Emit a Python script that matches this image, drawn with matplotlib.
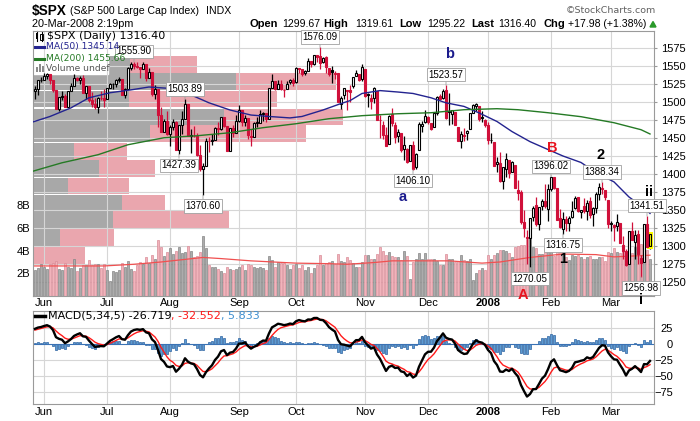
import matplotlib
matplotlib.use("Agg")
import matplotlib.pyplot as plt
import numpy as np
import pandas as pd
from matplotlib.lines import Line2D
from matplotlib.patches import Rectangle, Polygon

W, H = 700, 421

# ---- $SPX daily bars, 29-May-2007 .. 20-Mar-2008 (one line per month) ----
opens = [
    1515.55, 1517.60, 1530.19,
    1530.62, 1536.28, 1539.12, 1530.57, 1517.36, 1490.71, 1507.64, 1509.12, 1492.65, 1515.58, 1522.97, 1532.90, 1531.02, 1533.68, 1512.50, 1522.19, 1502.56, 1497.68, 1492.62, 1506.32, 1505.70,
    1504.66, 1519.12, 1524.86, 1524.96, 1530.43, 1531.85, 1509.93, 1518.74, 1547.68, 1552.50, 1549.52, 1549.20, 1546.13, 1553.19, 1534.06, 1541.57, 1511.03, 1518.09, 1482.44, 1458.93, 1473.90,
    1455.18, 1465.46, 1472.18, 1433.04, 1467.62, 1476.22, 1497.21, 1453.09, 1453.42, 1452.87, 1426.15, 1406.64, 1411.26, 1445.55, 1445.55, 1447.03, 1464.05, 1462.34, 1479.36, 1466.72, 1432.01, 1463.67, 1457.61,
    1473.96, 1488.76, 1472.03, 1478.55, 1453.50, 1451.69, 1471.10, 1471.47, 1483.95, 1484.24, 1476.63, 1519.75, 1528.69, 1518.75, 1525.75, 1516.34, 1518.62, 1527.32, 1531.24,
    1527.29, 1546.96, 1545.80, 1539.91, 1543.84, 1556.51, 1553.18, 1564.98, 1564.72, 1555.41, 1562.25, 1547.81, 1544.44, 1539.29, 1540.00, 1497.79, 1509.30, 1516.61, 1516.15, 1522.17, 1536.92, 1539.42, 1532.15,
    1545.79, 1511.07, 1505.61, 1505.33, 1515.46, 1475.27, 1467.59, 1453.66, 1441.35, 1483.40, 1468.04, 1453.09, 1456.70, 1434.51, 1434.71, 1417.62, 1440.74, 1409.59, 1432.95, 1467.41, 1471.83,
    1479.63, 1471.34, 1465.22, 1484.59, 1508.60, 1505.11, 1516.68, 1487.58, 1483.27, 1486.19, 1465.05, 1445.92, 1454.70, 1456.42, 1463.19, 1484.55, 1495.12, 1495.05, 1479.83, 1475.25,
    1467.97, 1447.55, 1444.01, 1414.07, 1415.71, 1390.25, 1406.78, 1419.91, 1402.91, 1411.88, 1377.41, 1374.79, 1333.90, 1312.94, 1310.41, 1340.13, 1357.32, 1330.70, 1355.94, 1362.22, 1351.98,
    1378.60, 1395.38, 1380.28, 1339.48, 1324.01, 1336.88, 1331.92, 1340.55, 1353.12, 1367.33, 1347.52, 1355.86, 1348.39, 1362.21, 1344.22, 1352.75, 1371.76, 1378.95, 1378.16, 1364.07,
    1330.45, 1329.58, 1327.69, 1332.20, 1301.53, 1293.16, 1274.40, 1321.13, 1305.26, 1316.05, 1283.21, 1277.41, 1330.97, 1299.67,
]
highs = [
    1521.80, 1530.23, 1535.56,
    1540.56, 1540.53, 1539.12, 1530.57, 1517.36, 1507.76, 1515.53, 1511.33, 1515.70, 1526.45, 1538.71, 1535.44, 1535.85, 1537.32, 1522.90, 1522.19, 1514.29, 1506.12, 1506.80, 1514.84, 1517.53,
    1519.45, 1526.01, 1526.57, 1532.40, 1534.26, 1531.85, 1519.34, 1548.74, 1555.10, 1555.90, 1555.32, 1549.20, 1555.20, 1553.19, 1547.23, 1541.57, 1524.31, 1518.09, 1492.89, 1476.80, 1488.30,
    1468.38, 1476.43, 1473.23, 1467.67, 1488.30, 1503.89, 1497.21, 1462.02, 1466.29, 1456.74, 1440.78, 1415.97, 1450.33, 1451.75, 1455.32, 1464.86, 1472.06, 1479.40, 1479.36, 1466.72, 1463.76, 1468.43, 1481.47,
    1496.40, 1488.76, 1481.49, 1478.55, 1462.25, 1472.48, 1479.50, 1489.58, 1485.99, 1484.24, 1519.89, 1538.74, 1529.14, 1530.89, 1530.18, 1518.27, 1529.39, 1532.46, 1533.74,
    1549.02, 1548.01, 1545.84, 1544.02, 1561.91, 1556.51, 1565.26, 1565.42, 1576.09, 1563.03, 1564.74, 1547.81, 1550.66, 1542.79, 1540.00, 1508.06, 1520.01, 1517.23, 1523.24, 1535.53, 1544.67, 1539.42, 1552.76,
    1545.79, 1513.15, 1510.84, 1520.77, 1515.46, 1482.50, 1474.09, 1464.94, 1481.37, 1492.14, 1472.67, 1462.18, 1456.70, 1452.64, 1436.40, 1440.86, 1446.09, 1429.49, 1471.62, 1473.81, 1488.94,
    1481.16, 1471.34, 1486.09, 1508.02, 1510.63, 1518.27, 1523.57, 1511.96, 1489.40, 1486.67, 1465.05, 1460.16, 1464.42, 1461.53, 1485.40, 1497.63, 1498.85, 1495.05, 1488.01, 1475.83,
    1471.77, 1456.80, 1444.01, 1423.87, 1430.28, 1409.19, 1429.09, 1419.91, 1417.89, 1411.88, 1391.99, 1377.72, 1350.28, 1322.09, 1339.02, 1355.15, 1368.56, 1353.97, 1364.93, 1385.86, 1385.62,
    1396.02, 1395.38, 1380.28, 1351.96, 1347.16, 1341.22, 1341.40, 1362.10, 1369.23, 1368.16, 1350.00, 1367.28, 1363.71, 1367.94, 1354.30, 1374.36, 1387.34, 1388.34, 1378.16, 1364.07,
    1335.13, 1331.03, 1344.19, 1332.20, 1313.24, 1295.01, 1320.65, 1333.26, 1321.68, 1321.47, 1287.50, 1330.74, 1341.51, 1319.61,
]
lows = [
    1504.41, 1510.06, 1528.26,
    1530.62, 1532.31, 1525.62, 1514.13, 1490.37, 1487.41, 1503.35, 1492.97, 1492.65, 1515.58, 1522.97, 1529.31, 1525.67, 1512.36, 1504.75, 1500.74, 1492.68, 1490.54, 1484.18, 1503.41, 1493.61,
    1504.66, 1519.12, 1517.72, 1520.47, 1527.45, 1510.01, 1506.10, 1518.74, 1544.85, 1546.69, 1547.74, 1533.67, 1546.13, 1529.20, 1534.06, 1508.62, 1503.73, 1465.30, 1458.57, 1458.93, 1454.25,
    1439.59, 1460.58, 1432.80, 1427.39, 1455.80, 1476.22, 1453.09, 1429.74, 1451.54, 1425.48, 1404.36, 1370.60, 1411.26, 1430.54, 1439.76, 1447.03, 1453.88, 1460.54, 1465.98, 1432.01, 1432.01, 1451.25, 1457.61,
    1472.15, 1466.34, 1467.41, 1449.07, 1439.29, 1451.69, 1465.75, 1471.47, 1473.18, 1471.82, 1476.63, 1519.75, 1516.42, 1518.75, 1516.15, 1507.13, 1518.62, 1525.81, 1521.99,
    1527.25, 1540.37, 1536.34, 1537.63, 1543.84, 1549.00, 1551.82, 1555.46, 1546.72, 1554.09, 1540.81, 1536.29, 1526.01, 1531.76, 1500.26, 1490.40, 1503.61, 1489.56, 1500.46, 1520.18, 1536.92, 1529.55, 1529.40,
    1506.66, 1492.53, 1489.95, 1499.07, 1475.04, 1450.31, 1448.51, 1438.53, 1441.35, 1466.47, 1443.49, 1443.99, 1430.42, 1419.28, 1415.64, 1417.62, 1406.10, 1407.43, 1432.95, 1458.36, 1470.89,
    1470.08, 1460.66, 1465.22, 1482.19, 1502.66, 1504.96, 1475.99, 1468.23, 1469.21, 1467.78, 1445.43, 1435.65, 1445.31, 1447.22, 1463.19, 1484.55, 1488.20, 1474.36, 1471.70, 1465.13,
    1442.07, 1443.73, 1411.19, 1403.45, 1388.30, 1378.70, 1395.31, 1394.83, 1402.91, 1380.60, 1364.27, 1330.67, 1312.51, 1274.29, 1270.05, 1334.31, 1327.50, 1322.26, 1350.19, 1352.95, 1334.08,
    1375.93, 1379.69, 1336.64, 1324.34, 1316.75, 1321.06, 1320.32, 1339.36, 1350.78, 1347.31, 1338.13, 1345.05, 1336.55, 1339.34, 1327.04, 1346.03, 1363.29, 1372.00, 1363.16, 1325.42,
    1320.04, 1307.39, 1320.22, 1303.42, 1282.43, 1272.66, 1274.40, 1307.86, 1282.11, 1274.86, 1256.98, 1277.41, 1298.42, 1295.22,
]
closes = [
    1518.11, 1530.23, 1530.62,
    1536.34, 1539.18, 1530.95, 1517.38, 1490.72, 1507.67, 1509.12, 1493.00, 1515.67, 1522.97, 1532.91, 1531.05, 1533.70, 1512.84, 1522.19, 1502.56, 1497.74, 1492.89, 1506.34, 1505.71, 1503.35,
    1519.43, 1524.87, 1525.40, 1530.44, 1531.85, 1510.12, 1518.76, 1547.70, 1552.50, 1549.52, 1549.37, 1546.17, 1553.08, 1534.10, 1541.57, 1511.04, 1518.09, 1482.66, 1458.95, 1473.91, 1455.27,
    1465.81, 1472.20, 1433.06, 1467.67, 1476.71, 1497.49, 1453.09, 1453.64, 1452.92, 1426.54, 1406.70, 1411.27, 1445.94, 1445.55, 1447.12, 1464.07, 1462.50, 1479.37, 1466.79, 1432.36, 1463.76, 1457.64, 1473.99,
    1489.42, 1472.29, 1478.55, 1453.55, 1451.70, 1471.49, 1471.56, 1483.95, 1484.25, 1476.65, 1519.78, 1529.03, 1518.75, 1525.75, 1517.73, 1517.21, 1525.42, 1531.38, 1526.75,
    1547.04, 1546.63, 1539.59, 1542.84, 1557.59, 1552.58, 1565.15, 1562.47, 1554.41, 1561.80, 1548.71, 1538.53, 1541.24, 1540.08, 1500.63, 1506.33, 1519.59, 1515.88, 1514.40, 1535.28, 1540.98, 1531.02, 1549.38,
    1508.44, 1509.65, 1502.17, 1520.27, 1475.62, 1474.77, 1453.70, 1439.18, 1481.05, 1470.58, 1451.15, 1458.74, 1433.27, 1439.70, 1416.77, 1440.70, 1407.22, 1428.23, 1469.02, 1469.72, 1481.14,
    1472.42, 1462.79, 1485.01, 1507.34, 1504.66, 1515.96, 1477.65, 1486.59, 1488.41, 1467.95, 1445.90, 1454.98, 1453.00, 1460.12, 1484.46, 1496.45, 1497.66, 1476.27, 1478.49, 1468.36,
    1447.16, 1447.16, 1411.63, 1416.18, 1390.19, 1409.13, 1420.33, 1401.02, 1416.25, 1380.95, 1373.20, 1333.25, 1325.19, 1310.50, 1338.60, 1352.07, 1330.61, 1353.96, 1362.30, 1355.81, 1378.55,
    1395.42, 1380.82, 1336.64, 1326.45, 1336.91, 1331.29, 1339.13, 1348.86, 1367.21, 1348.86, 1349.99, 1348.78, 1360.03, 1342.53, 1353.11, 1371.80, 1381.29, 1380.02, 1367.68, 1330.63,
    1331.34, 1326.75, 1333.70, 1304.34, 1293.37, 1273.37, 1320.65, 1308.77, 1315.48, 1288.14, 1276.60, 1330.74, 1298.42, 1316.40,
]
# volume in billions of shares
volumes = [
    2.3, 2.5, 2.8,
    2.6, 2.4, 2.8, 2.9, 3.1, 2.4, 2.3, 2.9, 2.6, 2.5, 3.3, 2.2, 2.5, 2.7, 2.7, 3.2, 2.7, 2.8, 2.8, 2.5, 2.8,
    2.3, 1.3, 2.2, 2.1, 2.3, 2.9, 2.6, 3.1, 2.4, 2.2, 2.7, 3.0, 2.8, 3.4, 2.9, 3.6, 3.3, 4.9, 4.3, 3.5, 3.9,
    4.2, 3.7, 4.0, 4.3, 3.8, 3.9, 4.4, 4.0, 3.4, 3.5, 3.9, 5.3, 4.2, 2.7, 2.6, 2.6, 2.4, 2.2, 2.0, 2.6, 2.4, 2.3, 2.4,
    2.6, 2.7, 2.3, 2.8, 2.7, 2.6, 2.5, 2.6, 2.5, 2.3, 3.5, 3.2, 2.6, 3.0, 2.9, 2.9, 2.7, 2.4, 2.7,
    2.8, 2.5, 2.7, 2.3, 2.6, 2.0, 2.5, 2.7, 3.6, 2.7, 2.9, 3.0, 3.1, 2.8, 3.7, 3.1, 3.0, 3.4, 3.2, 2.9, 2.6, 2.6, 3.0,
    3.6, 3.6, 3.3, 3.3, 3.7, 4.3, 4.0, 3.6, 3.9, 3.5, 3.4, 3.4, 3.2, 4.0, 3.5, 1.5, 3.0, 3.3, 3.8, 3.3, 3.8,
    3.3, 3.3, 3.3, 3.1, 2.7, 2.7, 3.7, 3.3, 3.3, 3.0, 3.1, 3.6, 3.2, 3.1, 3.3, 1.4, 2.0, 2.3, 2.5, 2.3,
    3.6, 3.3, 3.6, 3.8, 4.1, 4.1, 4.0, 3.8, 3.4, 4.3, 4.4, 4.5, 4.5, 5.0, 5.3, 4.3, 4.2, 3.7, 3.7, 4.2, 4.3,
    4.2, 3.5, 4.3, 4.0, 4.0, 3.4, 3.2, 3.6, 3.5, 3.6, 3.4, 3.3, 3.4, 3.5, 3.3, 3.3, 3.4, 3.4, 3.1, 3.9,
    3.8, 4.2, 3.9, 3.8, 4.3, 3.8, 4.5, 3.8, 4.3, 4.0, 4.6, 4.4, 4.1, 3.3,
]
holidays = ["2007-07-04", "2007-09-03", "2007-11-22", "2007-12-25",
            "2008-01-01", "2008-01-21", "2008-02-18"]

# overlay lines (day number, value)
ma50_day = [-1, 5, 12, 18, 25, 32, 38, 45, 52, 58, 65, 72, 78, 85, 89, 96, 102, 105, 109,
            115, 121, 126, 132, 137, 143, 148, 154, 159, 165, 171, 176, 182, 187, 193, 198, 203, 205]
ma50_val = [1472, 1480, 1492, 1506, 1513, 1517, 1521, 1519, 1510, 1499, 1489, 1482, 1480, 1478,
            1480, 1489, 1498, 1502, 1512, 1516, 1514, 1512, 1506, 1499, 1494, 1485, 1473, 1459,
            1445, 1434, 1425, 1416, 1402, 1389, 1368, 1353, 1345.14]
ma200_day = [-1, 9, 21, 31, 43, 54, 65, 76, 87, 98, 109, 121, 132, 143, 154, 161, 171, 182, 193, 202, 205]
ma200_val = [1403.5, 1415.6, 1426.8, 1440.7, 1450.4, 1453.2, 1457.4, 1464.4, 1469.9, 1476.9,
             1481.1, 1483.8, 1485.2, 1489.4, 1490.8, 1489.4, 1485.2, 1479.7, 1471.3, 1461.6, 1455.66]
volma_day = [-1, 23, 33, 42, 49, 56, 62, 72, 87, 98, 104, 113, 119, 138, 149, 155, 165, 176, 187, 193, 205]
volma_val = [2.65, 2.65, 2.8, 3.0, 3.2, 3.4, 3.3, 3.1, 2.9, 2.85, 2.8, 2.95, 3.1, 3.1, 2.9, 3.0,
             3.4, 3.7, 3.65, 3.45, 3.6]

# volume-by-price zones (zone top price, up volume, down volume in billions)
vbp_top = [1564, 1540, 1516, 1491, 1468, 1443, 1419, 1395, 1371, 1348, 1323, 1298]
vbp_up = [33.9, 70.7, 33.5, 66.5, 40.8, 14.4, 23.1, 12.3, 31.1, 28.0, 9.6, 0.0]
vbp_down = [23.3, 34.8, 51.4, 41.4, 54.2, 18.4, 19.5, 21.2, 14.9, 40.3, 18.8, 18.4]

# MACD(5,34,5) level at the left edge
macd_start = 24.0
signal_start = 22.0

peak_dates = ["2007-07-16", "2007-08-08", "2007-10-11", "2007-12-11",
              "2008-02-01", "2008-02-27", "2008-03-19"]
trough_dates = ["2007-08-06", "2007-08-16", "2007-11-26", "2008-01-23",
                "2008-02-07", "2008-03-17"]

# elliott wave marks: (text, day, price, colour)
waves = [("b", 138.3, 1567, "#1a1a8c"), ("a", 122.7, 1368, "#1a1a8c"),
         ("B", 172.3, 1436, "#e8141e"), ("A", 162.7, 1231, "#e8141e"),
         ("2", 188.5, 1426, "black"), ("1", 176.0, 1282, "black"),
         ("ii", 204.7, 1375, "black"), ("i", 202.0, 1225, "black")]

RED = "#d0103a"
GRID = "#d6d6d6"
FRAME = "#9a9a9a"

plt.rcParams["font.family"] = ["Liberation Sans", "DejaVu Sans"]

opens = np.array(opens)
highs = np.array(highs)
lows = np.array(lows)
closes = np.array(closes)
volumes = np.array(volumes)

dates = pd.bdate_range("2007-05-29", "2008-03-20")
dates = dates[~dates.isin(pd.to_datetime(holidays))]
n = len(dates)
x = np.arange(n)
xlim = (-0.83, 206.33)

# first trading day of each month -> grid + labels
month_idx = [i for i in range(1, n) if dates[i].month != dates[i - 1].month]
month_lab = ["2008" if dates[i].month == 1 else dates[i].strftime("%b") for i in month_idx]

prev = np.r_[opens[0], closes[:-1]]
down = closes < prev

# MACD(5,34,5)
a_f, a_s, a_g = 2 / 6, 2 / 35, 2 / 6
ema_f = closes[0]
ema_s = closes[0] - macd_start
sig = signal_start
macd = np.zeros(n)
signal = np.zeros(n)
for i, c in enumerate(closes):
    if i > 0:
        ema_f += a_f * (c - ema_f)
        ema_s += a_s * (c - ema_s)
        sig += a_g * ((ema_f - ema_s) - sig)
    macd[i] = ema_f - ema_s
    signal[i] = sig
hist = macd - signal

fig = plt.figure(figsize=(W / 100, H / 100), dpi=100)
fig.patch.set_facecolor("white")


def fpos(l, t, r, b):
    return [l / W, 1 - b / H, (r - l) / W, (b - t) / H]


def ftext(px, py, s, **kw):
    kw.setdefault("va", "center")
    return fig.text(px / W, 1 - py / H, s, **kw)


def fline(x0, y0, x1, y1, **kw):
    fig.add_artist(Line2D([x0 / W, x1 / W], [1 - y0 / H, 1 - y1 / H],
                          transform=fig.transFigure, **kw))


def frect(x0, y0, x1, y1, **kw):
    fig.add_artist(Rectangle((x0 / W, 1 - y1 / H), (x1 - x0) / W, (y1 - y0) / H,
                             transform=fig.transFigure, **kw))


ax = fig.add_axes(fpos(32.5, 30.7, 654, 296))
ax_vbp = ax.twiny()
ax_vol = ax.twinx()
ax_vbp.set_zorder(0)
ax_vol.set_zorder(1)
ax.set_zorder(2)
ax.patch.set_visible(False)
ax_vbp.patch.set_visible(True)
ax_vbp.patch.set_facecolor("white")
ax_vol.patch.set_visible(False)

ylim = (1230.3, 1599.3)
ax.set_ylim(*ylim)
ax.set_xlim(*xlim)

# volume by price
ax_vbp.set_xlim(0, 216)
zone_h = 23.0
bot = np.array(vbp_top) - zone_h
ax_vbp.barh(bot, vbp_up, height=zone_h, align="edge", color="#a8a8a8", lw=0, zorder=1)
ax_vbp.barh(bot, vbp_down, left=vbp_up, height=zone_h, align="edge", color="#eaa6ae", lw=0, zorder=1)
for p in range(1250, 1600, 25):
    ax_vbp.axhline(p, color=GRID, lw=0.8, zorder=2)
ax_vbp.xaxis.set_visible(False)
for s in ax_vbp.spines.values():
    s.set_visible(False)

# volume
ax_vol.set_ylim(0, 23.4)
for m in month_idx:
    ax_vol.axvline(m, color=GRID, lw=0.8, zorder=0)
vcol = np.where(down, "#f1b3bb", "#acacac")
vedge = np.where(down, "#d98c98", "#858585")
ax_vol.bar(x, volumes, width=0.8, color=vcol, edgecolor=vedge, lw=0.5, zorder=1)
ax_vol.plot(volma_day, volma_val, color="#f05050", lw=0.9, zorder=2)
ax_vol.yaxis.tick_left()
ax_vol.set_yticks([2, 4, 6, 8])
ax_vol.set_yticklabels(["2B", "4B", "6B", "8B"])
ax_vol.tick_params(axis="y", length=0, pad=1.5, labelsize=8)
for s in ax_vol.spines.values():
    s.set_visible(False)

# candles
col = np.where(down, RED, "black")
ax.vlines(x, lows, highs, colors=col, lw=0.9, zorder=3)
face = np.where(closes < opens, col, "white")
body_lo = np.minimum(opens, closes)
body_h = np.maximum(np.abs(closes - opens), 0.6)
face[-1] = "#ffff00"
ax.add_patch(Rectangle((x[-1] - 0.9, lows[-1]), 1.8, highs[-1] - lows[-1],
                       color="#ffff00", lw=0, zorder=3.5))
ax.bar(x, body_h, bottom=body_lo, width=0.72, color=face, edgecolor=col, lw=0.8, zorder=4)

ax.plot(ma50_day, ma50_val, color="#23238f", lw=1.0, zorder=5)
ax.plot(ma200_day, ma200_val, color="#257a25", lw=1.0, zorder=5)

ax.yaxis.tick_right()
ax.set_yticks(range(1250, 1600, 25))
ax.tick_params(axis="y", length=2.5, color=FRAME, pad=2.5, labelsize=8)
ax.set_xticks(month_idx)
ax.set_xticklabels(month_lab)
ax.tick_params(axis="x", length=0, pad=1.5, labelsize=8)
for s in ax.spines.values():
    s.set_color(FRAME)
    s.set_linewidth(0.8)

# hi / lo callouts
box = dict(boxstyle="square,pad=0.18", fc="white", ec="#a0a0a0", lw=0.6)
for d in peak_dates:
    i = dates.get_loc(pd.Timestamp(d))
    ax.annotate(f"{highs[i]:.2f}", xy=(i, highs[i]), xytext=(0, 7.5), textcoords="offset points",
                ha="center", va="center", fontsize=7, bbox=box, zorder=7,
                arrowprops=dict(arrowstyle="-", color="#a0a0a0", lw=0.6, shrinkA=0, shrinkB=0))
for d in trough_dates:
    i = dates.get_loc(pd.Timestamp(d))
    ax.annotate(f"{lows[i]:.2f}", xy=(i, lows[i]), xytext=(0, -8), textcoords="offset points",
                ha="center", va="center", fontsize=7, bbox=box, zorder=7,
                arrowprops=dict(arrowstyle="-", color="#a0a0a0", lw=0.6, shrinkA=0, shrinkB=0))

for t, d, p, c in waves:
    ax.text(d, p, t, color=c, fontsize=10.5, fontweight="bold", ha="center", va="center",
            zorder=8, clip_on=False)

# MACD panel
axm = fig.add_axes(fpos(32.5, 311, 654, 404.3))
axm.set_xlim(*xlim)
axm.set_ylim(-95.1, 52.1)
for m in month_idx:
    axm.axvline(m, color=GRID, lw=0.8, zorder=0)
for v in (25, -25, -50, -75):
    axm.axhline(v, color=GRID, lw=0.8, zorder=0)
axm.bar(x, hist, width=0.8, color="#5c9bd3", edgecolor="#2d62a0", lw=0.5, zorder=2)
axm.axhline(0, color="#3a72b5", lw=0.8, zorder=2)
axm.plot(x, signal, color="#ff1a1a", lw=1.0, zorder=3)
axm.plot(x, macd, color="black", lw=1.7, zorder=4)
axm.yaxis.tick_right()
axm.set_yticks([25, 0, -25, -50, -75])
axm.tick_params(axis="y", length=0, pad=19 * 0.72, labelsize=8)
for lab in axm.get_yticklabels():
    lab.set_ha("right")
axm.set_xticks(month_idx)
axm.set_xticklabels(month_lab)
axm.tick_params(axis="x", length=0, pad=2, labelsize=8)
for s in axm.spines.values():
    s.set_color(FRAME)
    s.set_linewidth(0.8)
for a in (ax, axm):
    for lab in a.get_xticklabels():
        if lab.get_text() == "2008":
            lab.set_fontweight("bold")

# header
ftext(32, 10.5, "$SPX", fontsize=9.8, fontweight="bold")
ftext(70, 11, "(S&P 500 Large Cap Index)", fontsize=7.6)
ftext(206, 11, "INDX", fontsize=7.6)
ftext(32, 24, "20-Mar-2008 2:19pm", fontsize=7.8)
for px, s, bold in [(250, "Open", True), (282, "1299.67", False), (323, "High", True),
                    (355, "1319.61", False), (399, "Low", True), (427, "1295.22", False),
                    (471, "Last", True), (498, "1316.40", False), (543, "Chg", True),
                    (568, "+17.98 (+1.38%)", False)]:
    if bold:
        ftext(px, 24, s, fontsize=8, fontweight="bold")
    else:
        ftext(px, 24, s, fontsize=7.6)
fig.add_artist(Polygon([(650 / W, 1 - 27 / H), (656 / W, 1 - 27 / H), (653 / W, 1 - 21.5 / H)],
                       closed=True, transform=fig.transFigure, color="#2a9a2a"))
ftext(656, 10.7, "\u00a9StockCharts.com", fontsize=6.8, ha="right", color="#606060",
      family="DejaVu Sans")

# price panel legend
frect(33.3, 52, 108, 73.5, color="white", zorder=0.5)
fline(37, 31, 37, 41, color="black", lw=0.8)
frect(36, 33, 38.2, 39, color="black", lw=0)
fline(41.5, 32, 41.5, 41, color="black", lw=0.8)
frect(40.3, 34, 42.7, 40, fc="white", ec="black", lw=0.7)
ftext(46.5, 36, "$SPX (Daily) 1316.40", fontsize=8, family="DejaVu Sans")
fline(35, 47, 44, 47, color="#23238f", lw=2.2)
ftext(46, 47, "MA(50) 1345.14", fontsize=6.6, color="#23238f", family="DejaVu Sans")
fline(35, 58.5, 44, 58.5, color="#257a25", lw=2.2)
ftext(46, 58.5, "MA(200) 1455.66", fontsize=6.6, color="#257a25", family="DejaVu Sans")
for bx, bh in [(35.5, 5), (38.5, 8), (41.5, 6)]:
    frect(bx, 72 - bh, bx + 2, 72, color="#8a8a8a", lw=0)
ftext(46, 68.5, "Volume undef", fontsize=6.6, color="#555555", family="DejaVu Sans")

# MACD legend
fline(35, 315.5, 45, 315.5, color="black", lw=2.5)
renderer = fig.canvas.get_renderer()
cur = 47.7
for s, c in [("MACD(5,34,5) -26.719", "black"), (", -32.552", "#ff1a1a"), (", 5.833", "#3f8fd0")]:
    t = ftext(cur, 315.5, s, fontsize=8, color=c, family="DejaVu Sans")
    cur += t.get_window_extent(renderer).width

fig.savefig("out.png", dpi=100, facecolor="white")
